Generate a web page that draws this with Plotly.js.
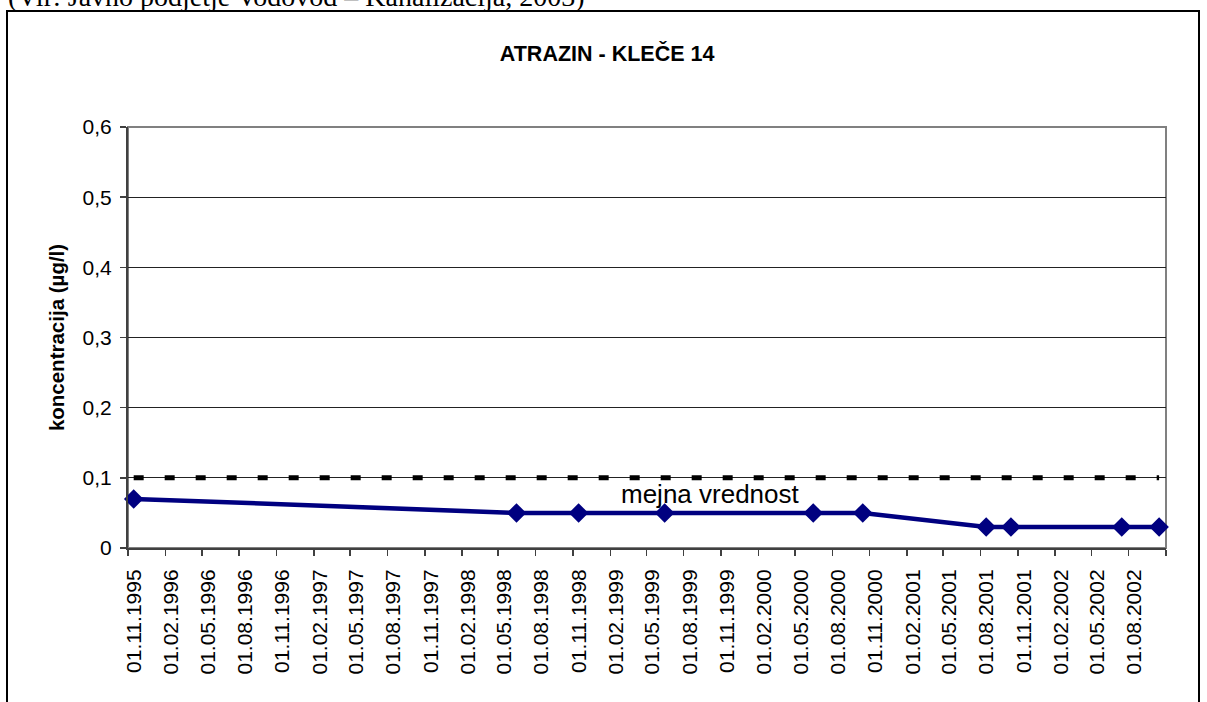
<!DOCTYPE html>
<html><head><meta charset="utf-8">
<script src="https://cdn.plot.ly/plotly-3.0.1.min.js"></script>
<style>html,body{margin:0;padding:0;background:#fff}#chart{width:1207px;height:702px}</style>
</head><body><div id="chart"></div>
<script>
const chartTitle = "ATRAZIN - KLEČE 14";
const sourceNote = "(Vir: Javno podjetje Vodovod – Kanalizacija, 2003)";
const yAxisTitle = "koncentracija (µg/l)";
const limitLabel = "mejna vrednost";

const sampleDates = ["1995-11-15","1998-06-15","1998-11-15","1999-06-15","2000-06-15","2000-10-15","2001-08-15","2001-10-15","2002-07-15","2002-10-15"];
const atrazin = [0.07,0.05,0.05,0.05,0.05,0.05,0.03,0.03,0.03,0.03];

const limitDates = ["1995-11-15","2002-10-15"];
const limitValues = [0.1,0.1];

const xTickLabels = ["01.11.1995","01.02.1996","01.05.1996","01.08.1996","01.11.1996","01.02.1997","01.05.1997","01.08.1997","01.11.1997","01.02.1998","01.05.1998","01.08.1998","01.11.1998","01.02.1999","01.05.1999","01.08.1999","01.11.1999","01.02.2000","01.05.2000","01.08.2000","01.11.2000","01.02.2001","01.05.2001","01.08.2001","01.11.2001","01.02.2002","01.05.2002","01.08.2002"];
const axisEnd = "2002-11-01";
const yTicks = [0,0.1,0.2,0.3,0.4,0.5,0.6];

const toIso = s => { const p = s.split("."); return p[2] + "-" + p[1] + "-" + p[0]; };
const tickVals = xTickLabels.map(toIso).concat([axisEnd]);
const tickText = xTickLabels.concat([""]);

const W = 1207, H = 702, M = {l:128, r:41, t:127, b:154};
const PW = W - M.l - M.r, PH = H - M.t - M.b;
const px = x => (x - M.l) / PW;
const py = y => (H - M.b - y) / PH;

const font = "Liberation Sans, Arial, sans-serif";

const traces = [
  {x: limitDates, y: limitValues, type: "scatter", mode: "lines",
   line: {color: "#000000", width: 5, dash: "10px,21px"}, hoverinfo: "skip", cliponaxis: false},
  {x: sampleDates, y: atrazin, type: "scatter", mode: "lines+markers",
   line: {color: "#000080", width: 4.5},
   marker: {symbol: "diamond", size: 15, color: "#000080"}, cliponaxis: false}
];

const layout = {
  width: W, height: H,
  margin: M,
  paper_bgcolor: "#ffffff", plot_bgcolor: "#ffffff",
  separators: ",.",
  showlegend: false,
  font: {family: font, color: "#000000", size: 21},
  title: {text: "<b>" + chartTitle + "</b>", font: {family: font, size: 21.5, color: "#000"},
          xref: "container", x: 0.503, xanchor: "center", yref: "container", y: 1 - 53 / H, yanchor: "middle"},
  xaxis: {type: "date", range: [tickVals[0], axisEnd], tickvals: tickVals, ticktext: tickText,
          tickangle: -90, ticks: "outside", ticklen: 6, tickcolor: "#404040", tickwidth: 1.5,
          ticklabelstandoff: 5, ticklabelshift: 6,
          showline: true, linecolor: "#404040", linewidth: 2, showgrid: false, zeroline: false,
          tickfont: {family: font, size: 21, color: "#000"}, automargin: false},
  yaxis: {range: [0, 0.6], tickvals: yTicks, ticks: "outside", ticklen: 6, tickcolor: "#404040", tickwidth: 1.5,
          ticklabelstandoff: 4,
          showline: true, linecolor: "#404040", linewidth: 2, showgrid: true, gridcolor: "#222222", gridwidth: 1,
          zeroline: false, tickfont: {family: font, size: 21, color: "#000"}, automargin: false,
          title: {text: "<b>" + yAxisTitle + "</b>", font: {family: font, size: 20.5, color: "#000"}, standoff: 12}},
  shapes: [
    {type: "rect", xref: "paper", yref: "paper", x0: 0, x1: 1, y0: 0, y1: 1,
     line: {color: "#808080", width: 2}, layer: "between"},
    {type: "rect", xref: "paper", yref: "paper", x0: px(7), x1: px(1199), y0: py(740), y1: py(11),
     line: {color: "#000000", width: 2}, layer: "below"}
  ],
  annotations: [
    {text: limitLabel, xref: "paper", yref: "paper", x: px(710), y: py(494), xanchor: "center", yanchor: "middle",
     showarrow: false, font: {family: font, size: 26, color: "#000"}},
    {text: sourceNote, xref: "paper", yref: "paper", x: px(6), y: py(-4), xanchor: "left", yanchor: "middle",
     showarrow: false, font: {family: "Liberation Serif, Times New Roman, serif", size: 28, color: "#000"}}
  ]
};

Plotly.newPlot("chart", traces, layout, {staticPlot: true, displayModeBar: false});
</script>
</body></html>
